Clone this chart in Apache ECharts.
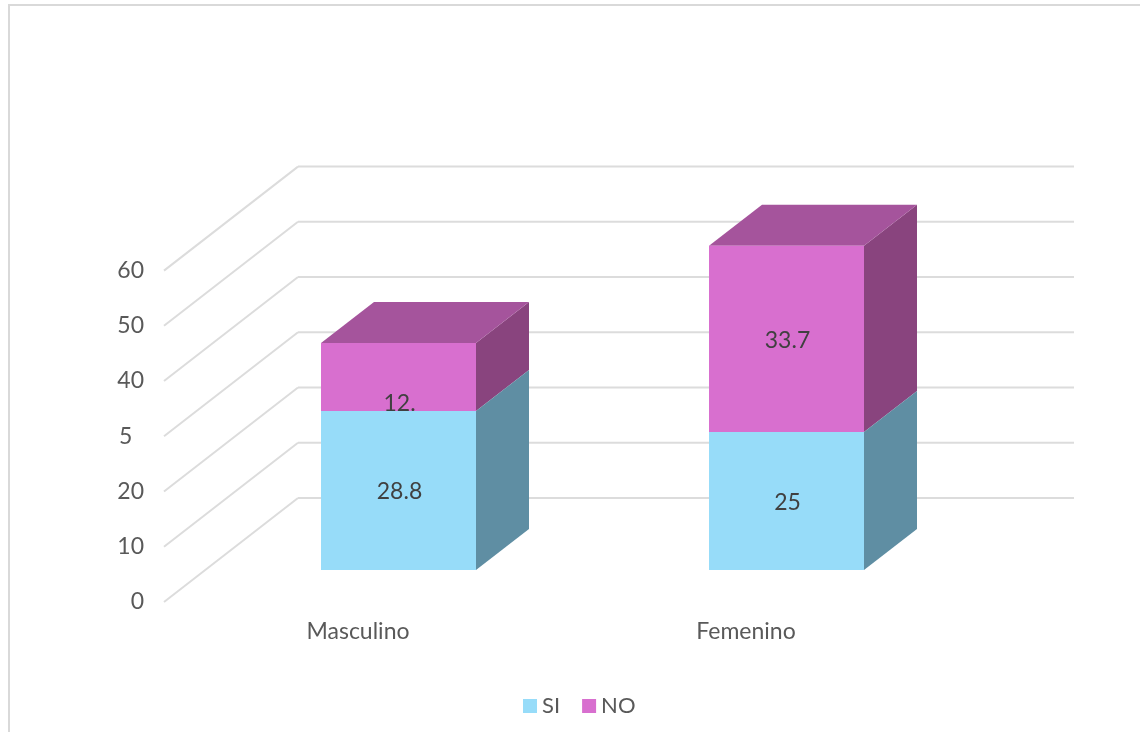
<!DOCTYPE html>
<html><head><meta charset="utf-8">
<style>html,body{margin:0;padding:0;background:#fff;overflow:hidden}#b{position:absolute;left:8px;top:4px;width:1300px;height:800px;border:2px solid #d9d9d9;box-sizing:border-box}</style>
<script src="https://cdn.jsdelivr.net/npm/echarts@6/dist/echarts.min.js"></script>
</head><body><div id="b"></div><div id="main" style="position:absolute;left:0;top:0;width:1140px;height:732px"></div>
<script>
const categories = ['Masculino', 'Femenino'];
const siValues = [28.8, 25];
const noValues = [12.3, 33.7];
const siLabels = ['28.8', '25'];
const noLabels = ['12.', '33.7'];
const tickValues = [0, 10, 20, 30, 40, 50, 60];
const tickLabels = ['0', '10', '20', '5\u00a0\u00a0', '40', '50', '60'];

const FONT = 'Lato, "Noto Sans", sans-serif';
const wallDX = 134, wallDY = -104;   // floor depth of the chart box
const barDX = 40.5, barDY = -32;     // where the bar front sits relative to the front plane
const depthX = 53, depthY = -41;     // bar depth
const barW = 155;
const noLabelShift = [25, 0];        // the first NO label sits low and is cut by the SI box

function poly(points, fill) {
  return { type: 'polygon', shape: { points }, style: { fill }, silent: true };
}
function wallItem(params, api) {
  const y = api.coord([categories[0], api.value(0)])[1];
  const g = params.coordSys, x0 = g.x;
  const st = { stroke: '#dcdcdc', lineWidth: 2 };
  return { type: 'group', children: [
    { type: 'line', shape: { x1: x0, y1: y, x2: x0 + wallDX, y2: y + wallDY }, style: st },
    { type: 'line', shape: { x1: x0 + wallDX, y1: y + wallDY, x2: x0 + wallDX + g.width, y2: y + wallDY }, style: st }
  ] };
}
function barItem(colors, labels, shifts) {
  return function (params, api) {
    const cat = api.value(0), lo = api.value(1), hi = api.value(2);
    const a = api.coord([cat, lo]), b = api.coord([cat, hi]);
    const x = a[0] + barDX - barW / 2, y0 = a[1] + barDY, y1 = b[1] + barDY;
    const r = x + barW;
    const children = [
      poly([[r, y0], [r + depthX, y0 + depthY], [r + depthX, y1 + depthY], [r, y1]], colors.side)
    ];
    if (colors.top) {
      children.push(poly([[x, y1], [x + depthX, y1 + depthY], [r + depthX, y1 + depthY], [r, y1]], colors.top));
    }
    children.push(
      poly([[x, y0], [r, y0], [r, y1], [x, y1]], colors.front),
      { type: 'text', silent: true, style: {
          x: x + barW / 2 + 1, y: (y0 + y1) / 2 + 1.5 + shifts[params.dataIndex],
          text: labels[params.dataIndex],
          fill: '#404040', font: '23px ' + FONT, align: 'center', verticalAlign: 'middle' } }
    );
    return { type: 'group', children };
  };
}
const siBase = categories.map(() => 0);
const option = {
  animation: false,
  legend: {
    top: 690, left: 518, itemWidth: 14, itemHeight: 14, itemGap: 22,
    icon: 'rect',
    textStyle: { color: '#595959', fontSize: 22, fontFamily: FONT },
    data: [{ name: 'SI', itemStyle: { color: '#97DCF9' } }, { name: 'NO', itemStyle: { color: '#D86FCF' } }]
  },
  grid: { left: 164, top: 270.6, width: 776, height: 331.4 },
  xAxis: { type: 'category', data: categories,
    axisLine: { show: false }, axisTick: { show: false }, splitLine: { show: false },
    axisLabel: { color: '#595959', fontSize: 23, fontFamily: FONT, margin: 18 } },
  yAxis: { type: 'value', min: 0, max: 60, interval: 10,
    axisLine: { show: false }, axisTick: { show: false }, splitLine: { show: false },
    axisLabel: { color: '#595959', fontSize: 23, fontFamily: FONT, margin: 20,
      formatter: v => tickLabels[tickValues.indexOf(v)] } },
  series: [
    { type: 'custom', name: 'walls', z: 1, silent: true, renderItem: wallItem,
      data: tickValues.map(v => [v]), encode: { y: 0 } },
    { type: 'custom', name: 'NO', z: 2, silent: true,
      renderItem: barItem({ front: '#D86FCF', side: '#89447E', top: '#A5549C' }, noLabels, noLabelShift),
      data: categories.map((c, i) => [c, siValues[i], siValues[i] + noValues[i]]),
      encode: { x: 0, y: [1, 2] }, itemStyle: { color: '#D86FCF' } },
    { type: 'custom', name: 'SI', z: 3, silent: true,
      renderItem: barItem({ front: '#97DCF9', side: '#5F8EA3', top: null }, siLabels, [0, 0]),
      data: categories.map((c, i) => [c, siBase[i], siValues[i]]),
      encode: { x: 0, y: [1, 2] }, itemStyle: { color: '#97DCF9' } }
  ]
};
echarts.init(document.getElementById('main'), null, { renderer: 'canvas' }).setOption(option);
</script></body></html>
